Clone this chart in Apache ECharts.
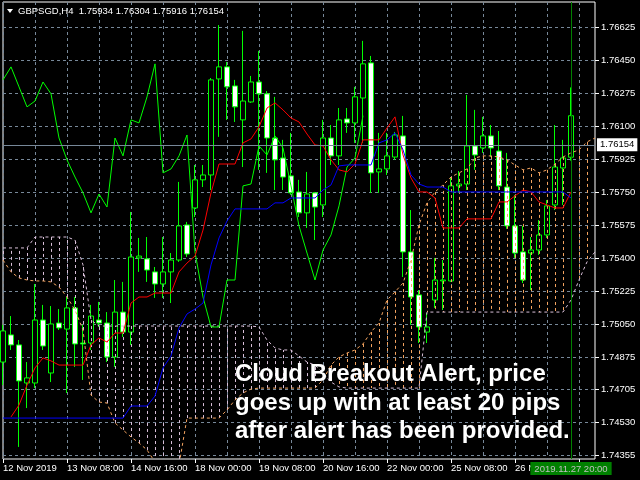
<!DOCTYPE html>
<html><head><meta charset="utf-8">
<script src="https://cdn.jsdelivr.net/npm/echarts@6/dist/echarts.min.js"></script>
<style>html,body{margin:0;padding:0;background:#000}#c{width:640px;height:480px}</style>
</head><body><div id="c"></div>
<script>
const symbolName = 'GBPSGD,H4';
const lastOHLC = [1.75934, 1.76304, 1.75916, 1.76154];
const alertBarIndex = 71;
const xTickLabels = ['12 Nov 2019','13 Nov 08:00','14 Nov 16:00','18 Nov 00:00','19 Nov 08:00','20 Nov 16:00','22 Nov 00:00','25 Nov 08:00','26 Nov 16:00'];
const yTickValues = [1.76625,1.76450,1.76275,1.76100,1.75925,1.75750,1.75575,1.75400,1.75225,1.75050,1.74875,1.74705,1.74530,1.74355];
const alertLines = ['Cloud Breakout Alert, price','goes up with at least 20 pips','after alert has been provided.'];

// [open, close, low, high]
const candles = [
[1.74848,1.75013,1.74726,1.75045],[1.74992,1.74939,1.74912,1.75092],[1.74939,1.74748,1.74398,1.74965],[1.74737,1.74764,1.74604,1.74848],
[1.74737,1.75071,1.74710,1.75262],[1.75071,1.74933,1.74912,1.75151],[1.74790,1.75050,1.74742,1.75145],[1.75055,1.75029,1.75018,1.75129],
[1.75023,1.75135,1.74684,1.75193],[1.75135,1.74944,1.74822,1.75193],[1.74949,1.74944,1.74753,1.75045],[1.74949,1.75092,1.74912,1.75151],
[1.75071,1.75055,1.75034,1.75167],[1.75055,1.74875,1.74848,1.75113],[1.74875,1.75113,1.74822,1.75283],[1.75113,1.75007,1.74981,1.75273],
[1.75007,1.75405,1.74939,1.75644],[1.75400,1.75410,1.75326,1.75506],[1.75395,1.75336,1.75273,1.75511],[1.75326,1.75262,1.75188,1.75352],
[1.75262,1.75326,1.75188,1.75511],[1.75326,1.75389,1.75161,1.75426],[1.75389,1.75570,1.75379,1.75803],[1.75575,1.75421,1.75405,1.75591],
[1.75665,1.75814,1.75617,1.75893],[1.75814,1.75840,1.75776,1.75893],[1.75840,1.76344,1.75760,1.76354],[1.76349,1.76413,1.76042,1.76635],
[1.76413,1.76307,1.76132,1.76439],[1.76312,1.76201,1.76121,1.76344],[1.76132,1.76232,1.75882,1.76604],[1.76227,1.76333,1.76222,1.76365],
[1.76333,1.76270,1.75867,1.76498],[1.76270,1.76036,1.75851,1.76285],[1.76036,1.75920,1.75760,1.76254],[1.75930,1.75829,1.75760,1.76026],
[1.75835,1.75745,1.75734,1.76063],[1.75750,1.75639,1.75617,1.75814],[1.75639,1.75739,1.75559,1.75856],[1.75745,1.75670,1.75495,1.75750],
[1.75681,1.76036,1.75617,1.76132],[1.76036,1.75941,1.75893,1.76105],[1.75941,1.76132,1.75893,1.76195],[1.76137,1.76116,1.76063,1.76195],
[1.76116,1.76254,1.76010,1.76307],[1.76248,1.76429,1.76010,1.76551],[1.76434,1.75851,1.75745,1.76471],[1.75856,1.75872,1.75745,1.76063],
[1.75872,1.75941,1.75840,1.76063],[1.75935,1.76052,1.75920,1.76068],[1.76047,1.75432,1.75299,1.76153],[1.75432,1.75193,1.75045,1.75654],
[1.75204,1.75034,1.74949,1.75230],[1.75007,1.75034,1.74949,1.75108],[1.75177,1.75283,1.75135,1.75400],[1.75278,1.75283,1.75124,1.75389],
[1.75278,1.75782,1.75273,1.75829],[1.75782,1.75792,1.75745,1.75861],[1.75792,1.75994,1.75760,1.76264],[1.75994,1.75946,1.75867,1.76185],
[1.75983,1.76047,1.75957,1.76148],[1.76047,1.75983,1.75935,1.76105],[1.75967,1.75782,1.75760,1.76073],[1.75776,1.75570,1.75554,1.75957],
[1.75570,1.75426,1.75400,1.75734],[1.75432,1.75283,1.75267,1.75570],[1.75426,1.75442,1.75230,1.75511],[1.75442,1.75522,1.75416,1.75601],
[1.75522,1.75676,1.75506,1.75707],[1.75681,1.75882,1.75654,1.76105],[1.75877,1.75930,1.75681,1.76026],[1.75934,1.76154,1.75916,1.76304]
];

const tenkan = [null,1.74557,1.74620,1.74726,1.74817,1.74870,1.74854,1.74832,1.74832,1.74832,1.74832,1.74939,1.74976,1.74954,1.75002,1.75002,
1.75161,1.75193,1.75193,1.75214,1.75214,1.75214,1.75326,1.75373,1.75410,1.75548,1.75745,1.75898,1.75898,1.75898,1.76010,1.76031,
1.76095,1.76195,1.76222,1.76185,1.76142,1.76121,1.76057,1.75999,1.75994,1.75920,1.75867,1.75856,1.75898,1.76026,1.76026,1.76026,
1.76089,1.76148,1.75946,1.75824,1.75750,1.75750,1.75718,1.75559,1.75559,1.75559,1.75607,1.75607,1.75607,1.75607,1.75697,1.75697,
1.75729,1.75760,1.75750,1.75697,1.75681,1.75665,1.75665,1.75750];

const kijun = [1.74551,1.74551,1.74551,1.74551,1.74551,1.74551,1.74551,1.74551,1.74551,1.74551,1.74551,1.74551,1.74551,1.74551,1.74551,1.74551,
1.74615,1.74615,1.74615,1.74668,1.74817,1.74880,1.75029,1.75103,1.75129,1.75161,1.75363,1.75506,1.75596,1.75660,1.75660,1.75660,
1.75660,1.75660,1.75692,1.75692,1.75718,1.75718,1.75718,1.75718,1.75760,1.75787,1.75888,1.75893,1.75893,1.75893,1.75893,1.76010,
1.76026,1.76063,1.75973,1.75840,1.75792,1.75776,1.75776,1.75776,1.75750,1.75750,1.75750,1.75750,1.75750,1.75750,1.75750,1.75750,
1.75750,1.75750,1.75750,1.75750,1.75750,1.75750,1.75750,1.75718];

const senkouA = [1.75389,1.75326,1.75294,1.75283,1.75278,1.75278,1.75273,1.75246,1.75193,1.75124,1.75018,1.74673,1.74636,1.74631,1.74525,1.74488,
1.74451,1.74419,1.74382,1.74318,1.74286,1.74286,1.74302,1.74551,1.74551,1.74551,1.74551,1.74551,1.74594,1.74647,1.74684,1.74705,
1.74710,1.74710,1.74710,1.74710,1.74710,1.74710,1.74710,1.74710,1.74753,1.74832,1.74875,1.74896,1.74912,1.74944,1.75007,1.75055,
1.75177,1.75220,1.75267,1.75389,1.75575,1.75692,1.75750,1.75787,1.75829,1.75851,1.75872,1.75930,1.75941,1.75941,1.75935,1.75920,
1.75893,1.75867,1.75877,1.75851,1.75867,1.75898,1.75935,1.75957,1.75973,1.76015,1.76036];

const senkouB = [1.75453,1.75453,1.75453,1.75453,1.75511,1.75511,1.75511,1.75511,1.75511,1.75495,1.75363,1.75071,1.75039,1.75039,1.75039,1.75039,
1.75039,1.75039,1.75039,1.75039,1.75039,1.75039,1.75039,1.75039,1.75039,1.75039,1.75039,1.75039,1.75039,1.75039,1.75039,1.75039,
1.75034,1.74965,1.74923,1.74912,1.74912,1.74880,1.74848,1.74832,1.74790,1.74742,1.74716,1.74710,1.74710,1.74710,1.74710,1.74710,
1.74710,1.74710,1.74710,1.74710,1.74710,1.75113,1.75113,1.75113,1.75113,1.75113,1.75113,1.75113,1.75113,1.75113,1.75113,1.75113,
1.75113,1.75113,1.75113,1.75113,1.75113,1.75113,1.75113,1.75177,1.75283,1.75379,1.75432];

// Chikou span: closes displayed 26 bars back
const chikouShift = 26;
const chikou = candles.slice(chikouShift).map(c => c[1]);

// H4 bar times (weekdays only), 75 slots incl. future cloud bars
function pad(n){return (n<10?'0':'')+n;}
const categories = [];
(function(){
  let t = Date.UTC(2019,10,12,0,0);
  while (categories.length < senkouA.length) {
    const d = new Date(t);
    const wd = d.getUTCDay();
    if (wd !== 0 && wd !== 6) {
      categories.push(d.getUTCFullYear()+'.'+pad(d.getUTCMonth()+1)+'.'+pad(d.getUTCDate())+' '+pad(d.getUTCHours())+':00');
    }
    t += 4*3600*1000;
  }
})();

const FONT = "'Liberation Sans', Arial, sans-serif";
const GRIDC = '#778899';
const SANDY = '#F4A460', THISTLE = '#D8BFD8';

const chart = echarts.init(document.getElementById('c'), null, {renderer:'canvas'});
chart.setOption({
  animation: false,
  backgroundColor: '#000',
  grid: { left: 3, right: 45, top: 2, bottom: 21, show: true, borderColor: '#fff', borderWidth: 1, backgroundColor: '#000', containLabel: false, outerBoundsMode: 'none' },
  xAxis: {
    type: 'category', data: categories, boundaryGap: false,
    axisLine: { show: false },
    axisTick: { show: true, interval: 7, length: 4, lineStyle: { color: '#fff' } },
    axisLabel: { interval: 7, align: 'left', margin: 4, color: '#fff', fontSize: 9.5, fontFamily: FONT,
      formatter: (v, i) => xTickLabels[i/8] || '' },
    splitLine: { show: true, interval: 3, lineStyle: { color: GRIDC, type: [3,3], width: 1 } }
  },
  yAxis: {
    type: 'value', position: 'right', min: 1.74334, max: 1.76757, scale: true,
    axisLine: { show: false },
    axisTick: { show: true, customValues: yTickValues, length: 4, lineStyle: { color: '#fff' } },
    axisLabel: { customValues: yTickValues, margin: 6, color: '#fff', fontSize: 9.5, fontFamily: FONT,
      formatter: v => v.toFixed(5) },
    splitLine: { show: true, lineStyle: { color: GRIDC, type: [3,3], width: 1 } }
  },
  series: [
    {
      type: 'candlestick', data: candles, barWidth: 5, z: 2,
      itemStyle: { color: '#000', color0: '#fff', borderColor: '#00ff00', borderColor0: '#00ff00', borderColorDoji: '#00ff00', borderWidth: 1 },
      markLine: {
        symbol: 'none', silent: true, animation: false, z: 10,
        data: [
          { yAxis: lastOHLC[3], lineStyle: { color: GRIDC, type: 'solid', width: 1 },
            label: { show: true, position: 'end', formatter: lastOHLC[3].toFixed(5), backgroundColor: '#fff', color: '#000',
              padding: [2,3,1,3], distance: 2, fontSize: 9.5, fontFamily: FONT } },
          { xAxis: categories[alertBarIndex], lineStyle: { color: '#008000', type: 'solid', width: 1 },
            label: { show: true, position: 'start', formatter: categories[alertBarIndex], backgroundColor: '#008000', color: '#c0c0c0',
              padding: [2,4,1,4], distance: 3, fontSize: 9.5, fontFamily: FONT } }
        ]
      }
    },
    {
      type: 'custom', z: 3, clip: true,
      data: senkouA.map((a, i) => [i, a, senkouB[i]]),
      encode: { x: 0, y: [1, 2] },
      renderItem: (params, api) => {
        const i = api.value(0), a = api.value(1), b = api.value(2);
        const p1 = api.coord([i, a]), p2 = api.coord([i, b]);
        const x = Math.round(p1[0]) + 0.5;
        return { type: 'line', shape: { x1: x, y1: p1[1], x2: x, y2: p2[1] },
          style: { stroke: a > b ? SANDY : THISTLE, lineWidth: 1, lineDash: [3,3] } };
      }
    },
    { type: 'line', data: senkouA, z: 4, symbol: 'none', lineStyle: { color: SANDY, width: 1, type: [3,3] } },
    { type: 'line', data: senkouB, z: 4, symbol: 'none', lineStyle: { color: THISTLE, width: 1, type: [3,3] } },
    { type: 'line', data: chikou, z: 5, symbol: 'none', lineStyle: { color: '#00ff00', width: 1 } },
    { type: 'line', data: tenkan, z: 5, symbol: 'none', connectNulls: false, lineStyle: { color: '#ff0000', width: 1 } },
    { type: 'line', data: kijun, z: 5, symbol: 'none', lineStyle: { color: '#0000ff', width: 1 } }
  ],
  graphic: [
    { type: 'polygon', z: 100, shape: { points: [[7,9],[13,9],[10,13]] }, style: { fill: '#fff' } },
    { type: 'text', z: 100, x: 18, y: 11, style: { text: symbolName + '  ' + [lastOHLC[0],lastOHLC[1],lastOHLC[2],lastOHLC[3]].map(v=>v.toFixed(5)).join(' '),
        fill: '#fff', font: '9.5px ' + FONT, verticalAlign: 'middle' } }
  ].concat(alertLines.map((t, i) => ({
    type: 'text', z: 100, x: 235, y: 374.6 + i * 28.5,
    style: { text: t, fill: '#fff', font: 'bold 24px ' + FONT, verticalAlign: 'middle' }
  })))
});
</script></body></html>
